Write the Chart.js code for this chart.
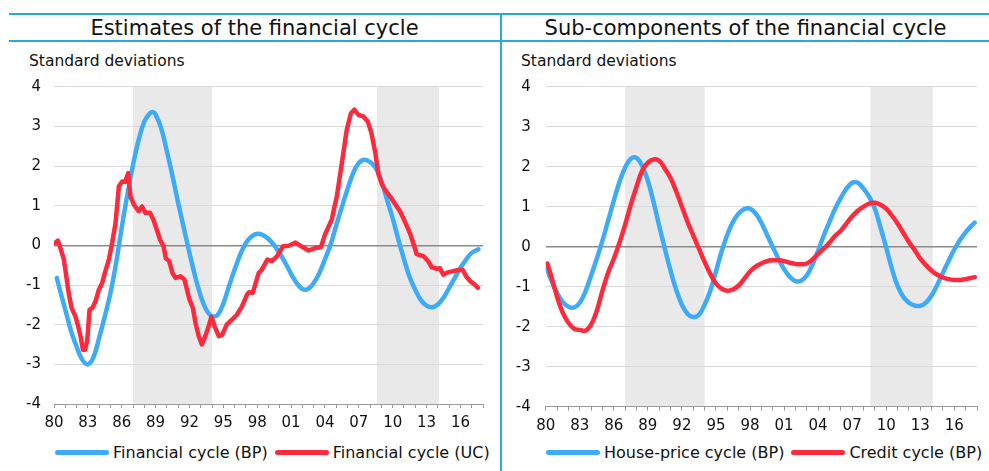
<!DOCTYPE html>
<html lang="en">
<head>
<meta charset="utf-8">
<title>Financial cycle</title>
<script src="https://cdn.jsdelivr.net/npm/chart.js"></script>
<style>
    body { margin: 0; background: #fff; font-family: 'DejaVu Sans', Verdana, sans-serif; color: #111; }
    #wrap { position: relative; width: 989px; height: 471px; overflow: hidden; }
    .rule { position: absolute; background: #29a8e0; }
    .title { position: absolute; top: 15px; height: 25px; line-height: 26px; font-size: 21px; text-align: center; white-space: nowrap; }
    .unit { position: absolute; top: 52px; font-size: 15.5px; white-space: nowrap; }
    canvas { position: absolute; top: 45px; }
    .legend { position: absolute; top: 441px; height: 22px; display: flex; align-items: center; font-size: 16px; white-space: nowrap; }
    .legend .sw { width: 54px; height: 5px; border-radius: 3px; margin-right: 4px; }
    .legend .txt { margin-right: 7px; }
</style>
</head>

<body>
<div id="wrap">
    <!--    Header rules and titles   -->
    <div class="rule" style="left:9px; right:0; top:13px; height:2px;"></div>
    <div class="rule" style="left:9px; right:0; top:40px; height:2px;"></div>
    <div class="rule" style="left:500px; top:13px; width:2px; bottom:0;"></div>
    <div class="title" style="left:9px; width:491px;">Estimates of the financial cycle</div>
    <div class="title" style="left:502px; width:487px;">Sub-components of the financial cycle</div>
    <div class="unit" style="left:29px;">Standard deviations</div>
    <div class="unit" style="left:521px;">Standard deviations</div>

    <!--    Charts-->
    <canvas id="leftChart" width="500" height="395" style="left:0;"></canvas>
    <canvas id="rightChart" width="487" height="395" style="left:502px;"></canvas>

    <!--    Legends   -->
    <div class="legend" style="left:55px;">
        <span class="sw" style="background:#3dabf6"></span><span class="txt">Financial cycle (BP)</span>
        <span class="sw" style="background:#fb2a3c"></span><span class="txt">Financial cycle (UC)</span>
    </div>
    <div class="legend" style="left:546px;">
        <span class="sw" style="background:#3dabf6"></span><span class="txt">House-price cycle (BP)</span>
        <span class="sw" style="background:#fb2a3c"></span><span class="txt">Credit cycle (BP)</span>
    </div>
</div>

<script>
    // x axis labels (every third year)
    const xLabelYears = [1980, 1983, 1986, 1989, 1992, 1995, 1998, 2001, 2004, 2007, 2010, 2013, 2016];
    const xLabels = ['80', '83', '86', '89', '92', '95', '98', '01', '04', '07', '10', '13', '16'];

    // shaded periods (start year, end year)
    const bandStarts = [1987.0, 2008.6];
    const bandEnds = [1994.0, 2014.1];

    // Financial cycle (BP)
    const fcBpYears = [1980.25, 1980.5, 1981, 1981.5, 1982, 1982.5, 1983, 1983.5, 1984, 1984.5,
        1985, 1985.5, 1986, 1986.5, 1987, 1987.5, 1988, 1988.5, 1988.8, 1989, 1989.5,
        1990, 1990.5, 1991, 1991.5, 1992, 1992.5, 1993, 1993.5, 1994, 1994.5,
        1995, 1995.5, 1996, 1996.5, 1997, 1997.5, 1998, 1998.5, 1999, 1999.5,
        2000, 2000.5, 2001, 2001.5, 2002, 2002.5, 2003, 2003.5, 2004, 2004.5,
        2005, 2005.5, 2006, 2006.5, 2007, 2007.5, 2008, 2008.5, 2009, 2009.5,
        2010, 2010.5, 2011, 2011.5, 2012, 2012.5, 2013, 2013.5, 2014, 2014.5,
        2015, 2015.5, 2016, 2016.5, 2017, 2017.6];
    const fcBpValues = [-0.82, -1.1, -1.62, -2.15, -2.55, -2.88, -3.0, -2.82, -2.33, -1.79,
        -1.2, -0.45, 0.45, 1.28, 2.03, 2.66, 3.12, 3.33, 3.36, 3.3, 2.95,
        2.37, 1.74, 1.07, 0.44, -0.19, -0.78, -1.28, -1.63, -1.79, -1.75,
        -1.47, -1.03, -0.61, -0.23, 0.06, 0.22, 0.29, 0.26, 0.16, 0.0,
        -0.2, -0.45, -0.72, -0.95, -1.1, -1.1, -0.95, -0.7, -0.35, 0.02,
        0.5, 0.97, 1.42, 1.82, 2.08, 2.16, 2.1, 1.95, 1.62, 1.15,
        0.68, 0.15, -0.35, -0.8, -1.12, -1.38, -1.52, -1.56, -1.49, -1.32,
        -1.07, -0.82, -0.57, -0.36, -0.19, -0.1];

    // Financial cycle (UC)
    const fcUcYears = [1980.1, 1980.35, 1980.6, 1980.88, 1981.1, 1981.3, 1981.56, 1981.9, 1982.15, 1982.35,
        1982.56, 1982.75, 1982.95, 1983.15, 1983.4, 1983.68, 1983.97, 1984.27, 1984.5, 1984.86,
        1985.15, 1985.45, 1985.75, 1986.04, 1986.3, 1986.57, 1986.78, 1987.07, 1987.5, 1987.8,
        1988.1, 1988.5, 1988.8, 1989.1, 1989.4, 1989.7, 1989.9, 1990.2, 1990.5, 1990.76,
        1991.2, 1991.55, 1991.78, 1992.0, 1992.3, 1992.53, 1992.82, 1993.1, 1993.4, 1993.7,
        1993.94, 1994.23, 1994.6, 1994.9, 1995.3, 1995.77, 1996.2, 1996.65, 1997.1, 1997.3,
        1997.6, 1998.13, 1998.4, 1998.9, 1999.3, 1999.75, 2000.3, 2000.8, 2001.4, 2001.95,
        2002.55, 2003.14, 2003.64, 2004.0, 2004.6, 2005.05, 2005.5, 2005.93, 2006.3, 2006.6,
        2006.97, 2007.4, 2007.8, 2008.1, 2008.45, 2008.74, 2009.03, 2009.33, 2009.78, 2010.2,
        2010.65, 2010.95, 2011.33, 2011.6, 2012.0, 2012.12, 2012.71, 2013.15, 2013.45, 2013.9,
        2014.19, 2014.48, 2014.9, 2015.37, 2015.8, 2016.2, 2016.55, 2016.9, 2017.27, 2017.56];
    const fcUcValues = [0.06, 0.12, -0.1, -0.36, -0.8, -1.2, -1.58, -1.79, -2.05, -2.29,
        -2.63, -2.63, -2.38, -1.62, -1.58, -1.41, -1.12, -0.95, -0.7, -0.36,
        0.06, 0.56, 1.49, 1.61, 1.6, 1.82, 1.23, 1.03, 0.86, 0.98,
        0.82, 0.82, 0.65, 0.4, 0.14, -0.02, -0.32, -0.4, -0.7, -0.82,
        -0.78, -0.86, -1.12, -1.37, -1.58, -1.95, -2.29, -2.5, -2.29, -2.04,
        -1.8, -2.04, -2.29, -2.25, -2.0, -1.87, -1.75, -1.54, -1.24, -1.18,
        -1.2, -0.7, -0.62, -0.36, -0.4, -0.28, -0.02, -0.01, 0.07, -0.03,
        -0.13, -0.07, -0.05, 0.27, 0.65, 1.23, 2.08, 2.91, 3.33, 3.42,
        3.29, 3.25, 3.12, 2.85, 2.35, 1.8, 1.55, 1.4, 1.23, 1.05,
        0.86, 0.68, 0.44, 0.25, -0.1, -0.22, -0.27, -0.4, -0.55, -0.59,
        -0.58, -0.74, -0.68, -0.65, -0.62, -0.62, -0.8, -0.91, -0.99, -1.07];

    // House-price cycle (BP)
    const hpYears = [1980.1, 1980.5, 1981, 1981.5, 1982, 1982.5, 1983, 1983.5, 1984, 1984.5,
        1985, 1985.5, 1986, 1986.5, 1987, 1987.5, 1988, 1988.5, 1989, 1989.5,
        1990, 1990.5, 1991, 1991.5, 1992, 1992.5, 1993, 1993.5, 1994, 1994.5,
        1995, 1995.5, 1996, 1996.5, 1997, 1997.5, 1998, 1998.5, 1999, 1999.5,
        2000, 2000.5, 2001, 2001.5, 2002, 2002.5, 2003, 2003.5, 2004, 2004.5,
        2005, 2005.5, 2006, 2006.5, 2007, 2007.5, 2008, 2008.5, 2009, 2009.5,
        2010, 2010.5, 2011, 2011.5, 2012, 2012.5, 2013, 2013.5, 2014, 2014.5,
        2015, 2015.5, 2016, 2016.5, 2017, 2017.5, 2017.8];
    const hpValues = [-0.54, -0.85, -1.15, -1.38, -1.5, -1.52, -1.4, -1.12, -0.72, -0.3,
        0.15, 0.65, 1.15, 1.62, 1.98, 2.2, 2.22, 2.02, 1.65, 1.12,
        0.52, -0.05, -0.6, -1.08, -1.45, -1.68, -1.76, -1.7, -1.45, -1.1,
        -0.62, -0.12, 0.3, 0.62, 0.83, 0.94, 0.95, 0.83, 0.6, 0.3,
        0.0, -0.3, -0.56, -0.75, -0.86, -0.85, -0.72, -0.45, -0.1, 0.28,
        0.62, 0.95, 1.22, 1.45, 1.6, 1.6, 1.45, 1.25, 0.95, 0.48,
        -0.02, -0.55, -0.98, -1.25, -1.4, -1.47, -1.48, -1.4, -1.22, -0.95,
        -0.65, -0.35, -0.07, 0.17, 0.36, 0.52, 0.6];

    // Credit cycle (BP)
    const crYears = [1980.15, 1980.5, 1981, 1981.5, 1982, 1982.5, 1983, 1983.5, 1984, 1984.5,
        1985, 1985.5, 1986, 1986.5, 1987, 1987.5, 1988, 1988.5, 1989, 1989.5,
        1990, 1990.5, 1991, 1991.5, 1992, 1992.5, 1993, 1993.5, 1994, 1994.5,
        1995, 1995.5, 1996, 1996.5, 1997, 1997.5, 1998, 1998.5, 1999, 1999.5,
        2000, 2000.5, 2001, 2001.5, 2002, 2002.5, 2003, 2003.5, 2004, 2004.5,
        2005, 2005.5, 2006, 2006.5, 2007, 2007.5, 2008, 2008.5, 2009, 2009.5,
        2010, 2010.5, 2011, 2011.5, 2012, 2012.5, 2013, 2013.5, 2014, 2014.5,
        2015, 2015.5, 2016, 2016.5, 2017, 2017.5, 2017.8];
    const crValues = [-0.42, -0.75, -1.25, -1.65, -1.9, -2.05, -2.08, -2.1, -1.95, -1.6,
        -1.1, -0.65, -0.3, 0.1, 0.55, 1.05, 1.5, 1.9, 2.1, 2.18,
        2.15, 1.95, 1.72, 1.38, 1.0, 0.62, 0.28, -0.05, -0.38, -0.68,
        -0.92, -1.05, -1.1, -1.07, -0.97, -0.8, -0.62, -0.5, -0.42, -0.36,
        -0.34, -0.34, -0.36, -0.4, -0.43, -0.44, -0.42, -0.32, -0.18, -0.05,
        0.1, 0.27, 0.4, 0.58, 0.76, 0.9, 1.0, 1.08, 1.1, 1.05,
        0.95, 0.78, 0.58, 0.35, 0.12, -0.08, -0.3, -0.46, -0.6, -0.7,
        -0.77, -0.81, -0.83, -0.83, -0.81, -0.78, -0.76];

    const BLUE = '#3dabf6';
    const RED = '#fb2a3c';

    Chart.defaults.font.family = "'DejaVu Sans', Verdana, sans-serif";
    Chart.defaults.color = '#111';

    function points(xs, ys) {
        return xs.map(function (x, i) { return {x: x, y: ys[i]}; });
    }

    // grey shaded periods behind the grid
    const bandPlugin = {
        id: 'bands',
        beforeDraw: function (chart) {
            const ctx = chart.ctx, area = chart.chartArea, xs = chart.scales.x;
            ctx.save();
            ctx.fillStyle = '#e9e9e9';
            for (let i = 0; i < bandStarts.length; i++) {
                const a = xs.getPixelForValue(bandStarts[i]);
                const b = xs.getPixelForValue(bandEnds[i]);
                ctx.fillRect(a, area.top, b - a, area.bottom - area.top);
            }
            ctx.restore();
        }
    };

    function make_chart(id, series, yWidth, yPad, xHeight, padRight) {
        return new Chart(document.getElementById(id), {
            type: 'line',
            data: {datasets: series},
            plugins: [bandPlugin],
            options: {
                responsive: false,
                animation: false,
                layout: {padding: {top: 41.7, right: padRight, left: 0, bottom: 0}},
                plugins: {legend: {display: false}, tooltip: {enabled: false}},
                elements: {point: {radius: 0}},
                scales: {
                    x: {
                        type: 'linear', min: 1980, max: 2018,
                        afterFit: function (s) { s.height = xHeight; },
                        border: {display: true, color: '#9a9a9a', width: 1},
                        grid: {display: true, drawOnChartArea: false, drawTicks: true, tickLength: 4, color: '#9a9a9a'},
                        ticks: {
                            stepSize: 1, autoSkip: false, maxRotation: 0, padding: 6,
                            font: {size: 15}, color: '#111',
                            callback: function (v) {
                                const k = xLabelYears.indexOf(v);
                                return k >= 0 ? xLabels[k] : '';
                            }
                        }
                    },
                    y: {
                        min: -4, max: 4,
                        afterFit: function (s) { s.width = yWidth; },
                        border: {display: false},
                        grid: {
                            drawTicks: false,
                            color: function (c) { return c.tick.value === 0 ? '#8a8a8a' : '#d9d9d9'; },
                            lineWidth: function (c) { return c.tick.value === 0 ? 1.5 : 1; }
                        },
                        ticks: {stepSize: 1, padding: yPad, font: {size: 15}, color: '#111'}
                    }
                }
            }
        });
    }

    const leftChart = make_chart('leftChart', [
        {label: 'Financial cycle (BP)', data: points(fcBpYears, fcBpValues), borderColor: BLUE,
            borderWidth: 4.5, tension: 0.4, borderCapStyle: 'round', order: 2},
        {label: 'Financial cycle (UC)', data: points(fcUcYears, fcUcValues), borderColor: RED,
            borderWidth: 4.5, tension: 0, borderCapStyle: 'round', borderJoinStyle: 'round', order: 1}
    ], 54, 13, 36, 17);

    const rightChart = make_chart('rightChart', [
        {label: 'House-price cycle (BP)', data: points(hpYears, hpValues), borderColor: BLUE,
            borderWidth: 4.5, tension: 0.4, borderCapStyle: 'round', order: 2},
        {label: 'Credit cycle (BP)', data: points(crYears, crValues), borderColor: RED,
            borderWidth: 4.5, tension: 0.4, borderCapStyle: 'round', order: 1}
    ], 43.7, 15, 33.3, 12);
</script>
</body>
</html>
